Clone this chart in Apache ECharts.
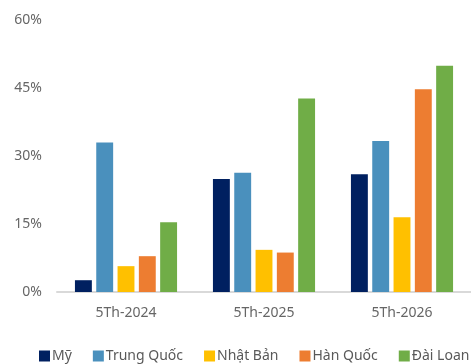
<!DOCTYPE html>
<html>
<head>
<meta charset="utf-8">
<script src="https://cdn.jsdelivr.net/npm/echarts@6/dist/echarts.min.js"></script>
<style>
  html, body { margin: 0; padding: 0; background: #fff; }
  #chart { width: 471px; height: 364px; }
</style>
</head>
<body>
<div id="chart"></div>
<script>
// categories (tháng) and series values in %
const categories = ['5Th-2024', '5Th-2025', '5Th-2026']
const seriesNames = ['Mỹ', 'Trung Quốc', 'Nhật Bản', 'Hàn Quốc', 'Đài Loan']
const my = [2.6, 24.9, 26.0]
const trungQuoc = [33.0, 26.3, 33.3]
const nhatBan = [5.7, 9.3, 16.5]
const hanQuoc = [7.9, 8.7, 44.7]
const daiLoan = [15.4, 42.7, 49.9]
const colors = ['#002060', '#4A90BD', '#FFC000', '#ED7D31', '#70AD47']

const values = [my, trungQuoc, nhatBan, hanQuoc, daiLoan]
const font = 'Noto Sans'

const chart = echarts.init(document.getElementById('chart'))
chart.setOption({
  animation: false,
  textStyle: { fontFamily: font },
  grid: {
    left: 57,
    right: 0,
    top: 20,
    bottom: 72
  },
  legend: {
    top: 349,
    left: 39,
    width: 432,
    padding: 0,
    itemWidth: 11,
    itemHeight: 11,
    itemGap: 21,
    icon: 'rect',
    textStyle: { fontSize: 14, color: '#595959', fontFamily: font, padding: [0, 0, 0, -3] },
    data: seriesNames
  },
  xAxis: {
    type: 'category',
    data: categories,
    axisTick: { show: false },
    axisLine: { lineStyle: { color: '#d9d9d9', width: 2 } },
    axisLabel: { fontSize: 14, color: '#666666', margin: 14 }
  },
  yAxis: {
    type: 'value',
    min: 0,
    max: 60,
    interval: 15,
    splitLine: { show: false },
    axisLine: { show: false },
    axisTick: { show: false },
    axisLabel: { fontSize: 14, color: '#666666', margin: 15, formatter: '{value}%' }
  },
  series: seriesNames.map((name, i) => ({
    name: name,
    type: 'bar',
    data: values[i],
    barGap: '26%',
    barCategoryGap: '26%',
    itemStyle: { color: colors[i] }
  }))
})
</script>
</body>
</html>
